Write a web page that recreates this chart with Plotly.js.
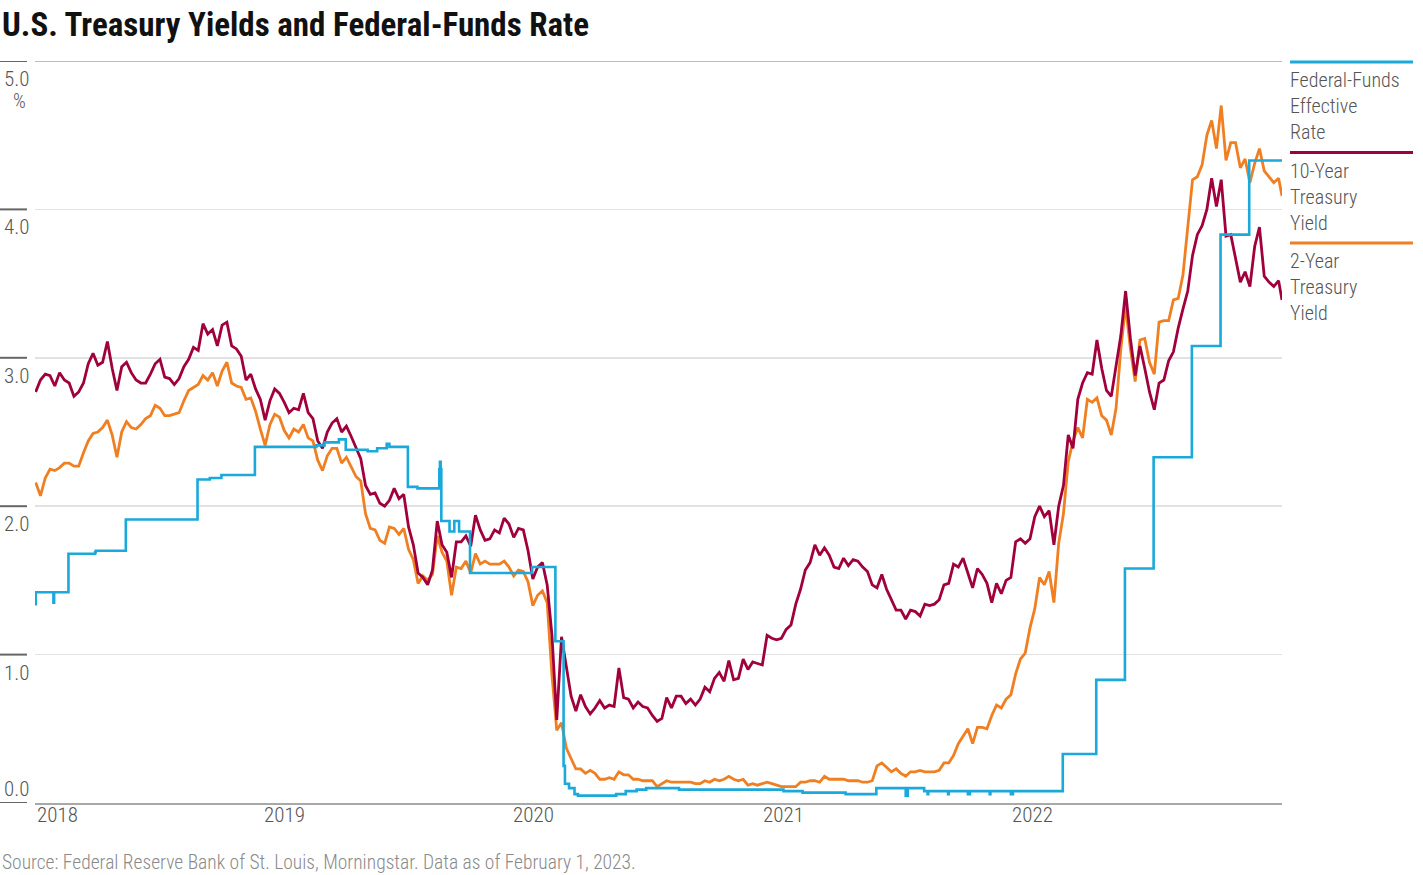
<!DOCTYPE html>
<html>
<head>
<meta charset="utf-8">
<script src="https://cdn.plot.ly/plotly-3.0.1.min.js"></script>
<style>
html,body{margin:0;padding:0;background:#fff;}
#chart{width:1423px;height:875px;}
</style>
</head>
<body>
<div id="chart"></div>
<script>
// ---------------- DATA ----------------
const seriesNames = ['Federal-Funds Effective Rate', '10-Year Treasury Yield', '2-Year Treasury Yield'];
const legendLines = [['Federal-Funds', 'Effective', 'Rate'], ['10-Year', 'Treasury', 'Yield'], ['2-Year', 'Treasury', 'Yield']];

// Treasury yields: weekly readings (Fridays) from 2018-02-02, last reading on 2023-02-01
const firstWeek = '2018-02-02';
const lastDate = '2023-02-01';

const tenYear = [
  // 2018
  2.77, 2.85, 2.89, 2.88,
  2.81, 2.90, 2.85, 2.83, 2.74,
  2.77, 2.83, 2.96, 3.03,
  2.95, 2.97, 3.11, 2.93,
  2.78, 2.94, 2.97, 2.90, 2.85,
  2.83, 2.83, 2.89, 2.96,
  2.99, 2.87, 2.86, 2.82, 2.86,
  2.94, 2.99, 3.07, 3.05,
  3.23, 3.16, 3.19, 3.08,
  3.22, 3.24, 3.08, 3.06, 3.01,
  2.85, 2.89, 2.79, 2.72,
  // 2019
  2.58, 2.71, 2.79, 2.76,
  2.70, 2.63, 2.66, 2.65,
  2.76, 2.63, 2.59, 2.44, 2.39,
  2.50, 2.56, 2.59, 2.50,
  2.54, 2.47, 2.39, 2.32, 2.14,
  2.08, 2.09, 2.02, 2.00,
  2.04, 2.12, 2.05, 2.08,
  1.86, 1.74, 1.55, 1.52, 1.47,
  1.57, 1.90, 1.74, 1.69,
  1.52, 1.76, 1.76, 1.80,
  1.73, 1.94, 1.84, 1.77, 1.78,
  1.84, 1.82, 1.92, 1.88,
  // 2020
  1.79, 1.85, 1.84, 1.70, 1.51,
  1.59, 1.62, 1.47, 1.13,
  0.56, 1.12, 0.92, 0.72,
  0.62, 0.73, 0.65, 0.60,
  0.64, 0.69, 0.64, 0.66, 0.65,
  0.91, 0.71, 0.70, 0.64,
  0.68, 0.65, 0.64, 0.59, 0.55,
  0.57, 0.71, 0.64, 0.72,
  0.72, 0.67, 0.70, 0.66,
  0.70, 0.78, 0.75, 0.84, 0.88,
  0.82, 0.96, 0.83, 0.84,
  0.97, 0.90, 0.95, 0.94,
  // 2021
  0.93, 1.13, 1.11, 1.10, 1.11,
  1.17, 1.20, 1.34, 1.44,
  1.57, 1.62, 1.74, 1.67,
  1.72, 1.67, 1.59, 1.58, 1.65,
  1.60, 1.64, 1.63, 1.59,
  1.56, 1.47, 1.45, 1.54,
  1.44, 1.37, 1.30, 1.30, 1.24,
  1.30, 1.29, 1.26, 1.34,
  1.33, 1.34, 1.37, 1.47,
  1.48, 1.61, 1.59, 1.65, 1.55,
  1.45, 1.58, 1.54, 1.48,
  1.35, 1.48, 1.41, 1.50, 1.52,
  // 2022
  1.76, 1.78, 1.75, 1.78,
  1.93, 2.00, 1.93, 1.97,
  1.74, 2.00, 2.14, 2.48,
  2.39, 2.72, 2.83, 2.90, 2.89,
  3.12, 2.93, 2.78, 2.74,
  2.96, 3.15, 3.45, 3.13,
  2.88, 3.08, 2.93, 2.77, 2.65,
  2.83, 2.85, 2.98, 3.04,
  3.20, 3.33, 3.45, 3.69, 3.83,
  3.89, 4.00, 4.21, 4.02,
  4.20, 3.82, 3.83, 3.68,
  3.51, 3.58, 3.48, 3.75, 3.88,
  // 2023
  3.55, 3.51, 3.48, 3.52, 3.39
];

const twoYear = [
  // 2018
  2.16, 2.07, 2.19, 2.25,
  2.24, 2.26, 2.29, 2.29, 2.27,
  2.27, 2.36, 2.44, 2.49,
  2.50, 2.53, 2.58, 2.48,
  2.33, 2.50, 2.57, 2.53, 2.52,
  2.55, 2.59, 2.61, 2.68,
  2.66, 2.61, 2.61, 2.62, 2.63,
  2.71, 2.78, 2.80, 2.82,
  2.88, 2.85, 2.90, 2.81,
  2.91, 2.97, 2.83, 2.81, 2.80,
  2.72, 2.73, 2.64, 2.52,
  // 2019
  2.41, 2.55, 2.62, 2.60,
  2.51, 2.46, 2.52, 2.50,
  2.55, 2.46, 2.44, 2.31, 2.24,
  2.34, 2.39, 2.39, 2.29,
  2.33, 2.27, 2.20, 2.17, 1.95,
  1.85, 1.84, 1.77, 1.75,
  1.86, 1.85, 1.81, 1.85,
  1.71, 1.64, 1.48, 1.53, 1.50,
  1.54, 1.80, 1.69, 1.63,
  1.40, 1.59, 1.58, 1.63,
  1.55, 1.68, 1.61, 1.63, 1.61,
  1.61, 1.61, 1.63, 1.59,
  // 2020
  1.53, 1.57, 1.56, 1.49, 1.33,
  1.40, 1.43, 1.35, 0.86,
  0.49, 0.54, 0.37, 0.30,
  0.23, 0.23, 0.20, 0.22,
  0.20, 0.16, 0.16, 0.17, 0.16,
  0.21, 0.19, 0.19, 0.16,
  0.16, 0.15, 0.15, 0.15, 0.11,
  0.13, 0.15, 0.14, 0.14,
  0.14, 0.14, 0.14, 0.13,
  0.13, 0.15, 0.14, 0.16, 0.15,
  0.16, 0.18, 0.16, 0.15,
  0.16, 0.12, 0.13, 0.12,
  // 2021
  0.13, 0.14, 0.13, 0.12, 0.11,
  0.11, 0.11, 0.11, 0.14,
  0.14, 0.15, 0.15, 0.14,
  0.18, 0.16, 0.16, 0.16, 0.16,
  0.15, 0.15, 0.15, 0.14,
  0.14, 0.15, 0.25, 0.27,
  0.24, 0.21, 0.23, 0.20, 0.18,
  0.21, 0.21, 0.22, 0.21,
  0.21, 0.21, 0.22, 0.27,
  0.27, 0.32, 0.40, 0.45, 0.50,
  0.40, 0.51, 0.51, 0.50,
  0.59, 0.66, 0.64, 0.70, 0.73,
  // 2022
  0.87, 0.97, 1.01, 1.18,
  1.31, 1.52, 1.47, 1.56,
  1.35, 1.75, 1.95, 2.30,
  2.44, 2.53, 2.46, 2.72, 2.70,
  2.73, 2.61, 2.58, 2.48,
  2.66, 3.06, 3.35, 3.06,
  2.84, 3.12, 3.13, 2.97, 2.89,
  3.24, 3.25, 3.25, 3.39,
  3.40, 3.56, 3.87, 4.20, 4.22,
  4.30, 4.50, 4.60, 4.41,
  4.70, 4.33, 4.45, 4.45,
  4.28, 4.34, 4.18, 4.31, 4.41,
  // 2023
  4.26, 4.22, 4.18, 4.21, 4.09
];

// Federal-funds effective rate: value in force from each date
const ffDates = [
  '2018-02-01', '2018-02-02', '2018-02-28', '2018-03-01', '2018-03-22', '2018-04-30', '2018-05-01',
  '2018-06-14', '2018-08-01', '2018-09-27', '2018-10-15', '2018-11-01', '2018-12-20',
  '2019-03-01', '2019-03-20', '2019-04-01', '2019-04-22', '2019-05-02', '2019-06-03', '2019-06-17',
  '2019-07-01', '2019-07-05', '2019-08-01', '2019-08-15', '2019-09-16', '2019-09-17', '2019-09-18',
  '2019-09-19', '2019-10-01', '2019-10-08', '2019-10-15', '2019-10-31',
  '2020-01-30', '2020-03-04', '2020-03-16', '2020-03-18', '2020-03-24', '2020-04-01', '2020-04-06',
  '2020-06-01', '2020-06-15', '2020-07-01', '2020-07-15', '2020-09-01', '2020-12-01',
  '2021-02-01', '2021-03-01', '2021-05-03', '2021-06-17', '2021-07-30', '2021-08-02', '2021-08-26',
  '2021-08-31', '2021-09-01', '2021-09-30', '2021-10-01', '2021-10-29', '2021-11-01', '2021-11-30',
  '2021-12-01', '2021-12-31', '2022-01-03',
  '2022-03-17', '2022-05-05', '2022-06-16', '2022-07-28', '2022-09-22', '2022-11-03', '2022-12-15',
  '2023-02-01'
];
const ffRates = [
  1.34, 1.42, 1.35, 1.42, 1.68, 1.69, 1.70,
  1.91, 1.91, 2.18, 2.19, 2.21, 2.40,
  2.40, 2.41, 2.43, 2.45, 2.38, 2.37, 2.39,
  2.42, 2.40, 2.13, 2.12, 2.25, 2.30, 2.25,
  1.90, 1.83, 1.90, 1.83, 1.55,
  1.59, 1.09, 0.25, 0.13, 0.10, 0.06, 0.05,
  0.06, 0.08, 0.09, 0.10, 0.09, 0.09,
  0.08, 0.07, 0.06, 0.10, 0.05, 0.10, 0.08,
  0.06, 0.08, 0.06, 0.08, 0.06, 0.08, 0.06,
  0.08, 0.06, 0.08,
  0.33, 0.83, 1.58, 2.33, 3.08, 3.83, 4.33,
  4.33
];

const yTickVals = [0, 1, 2, 3, 4, 5];
const yTickText = ['0.0', '1.0', '2.0', '3.0', '4.0', '5.0'];
const xTickDates = ['2018-02-01', '2019-02-01', '2020-02-01', '2021-02-01', '2022-02-01'];
const xTickText = ['2018', '2019', '2020', '2021', '2022'];
const xRange = ['2018-02-01', '2023-02-01'];

const titleText = 'U.S. Treasury Yields and Federal-Funds Rate';
const sourceText = 'Source: Federal Reserve Bank of St. Louis, Morningstar. Data as of February 1, 2023.';
const unitText = '%';

// ---------------- STYLE ----------------
const colors = ['#1aa9da', '#a0003b', '#f07f22'];
const FONT = '"Roboto Condensed", "Liberation Sans Narrow", "Arial Narrow", "DejaVu Sans Condensed", Roboto, sans-serif';
const W = 1423, H = 875;
const M = {l: 35, r: 141, t: 61, b: 72};
const plotW = W - M.l - M.r, plotH = H - M.t - M.b;
const px2x = px => (px - M.l) / plotW;
const px2y = py => (H - M.b - py) / plotH;

function weeklyDates(start, n, last) {
  const out = [];
  const d0 = new Date(start + 'T00:00:00Z').getTime();
  for (let i = 0; i < n - 1; i++) {
    out.push(new Date(d0 + i * 7 * 86400000).toISOString().slice(0, 10));
  }
  out.push(last);
  return out;
}
const tsyDates = weeklyDates(firstWeek, tenYear.length, lastDate);

const traces = [
  {x: tsyDates, y: twoYear, name: seriesNames[2], type: 'scatter', mode: 'lines',
   line: {color: colors[2], width: 2.8}, hoverinfo: 'skip'},
  {x: tsyDates, y: tenYear, name: seriesNames[1], type: 'scatter', mode: 'lines',
   line: {color: colors[1], width: 2.8}, hoverinfo: 'skip'},
  {x: ffDates, y: ffRates, name: seriesNames[0], type: 'scatter', mode: 'lines',
   line: {color: colors[0], width: 2.6, shape: 'hv'}, hoverinfo: 'skip'}
];

const annotations = [];
const shapes = [];
const labelFont = {family: FONT, size: 21, color: '#555', weight: 300};

// title
annotations.push({
  xref: 'paper', yref: 'paper', x: px2x(0), y: px2y(3), xanchor: 'left', yanchor: 'top',
  text: '<b>' + titleText + '</b>', showarrow: false,
  font: {family: FONT, size: 33, color: '#111'}
});

// y tick labels and their short left marks
yTickVals.forEach((v, i) => {
  const isBottom = v === 0;
  annotations.push({
    xref: 'paper', yref: 'y', x: px2x(2), y: v, xanchor: 'left',
    yanchor: isBottom ? 'bottom' : 'top', yshift: isBottom ? 0 : -4,
    text: yTickText[i], showarrow: false, font: labelFont
  });
  shapes.push({type: 'line', xref: 'paper', yref: 'y', x0: px2x(0), x1: px2x(27), y0: v, y1: v,
    line: {color: '#666', width: 2}});
});
annotations.push({
  xref: 'paper', yref: 'y', x: px2x(28), y: yTickVals[yTickVals.length - 1], xanchor: 'right', yanchor: 'top',
  yshift: -26, text: unitText, showarrow: false, font: {family: FONT, size: 20, color: '#555', weight: 300}
});
// top (5.0) rule is darker
shapes.push({type: 'line', xref: 'paper', yref: 'y', x0: 0, x1: 1, y0: 5, y1: 5,
  line: {color: '#a6a6a6', width: 1.5}});

// x tick labels
xTickDates.forEach((d, i) => {
  annotations.push({
    xref: 'x', yref: 'paper', x: d, y: 0, xanchor: i === 0 ? 'left' : 'center', yanchor: 'top', yshift: 2,
    text: xTickText[i], showarrow: false, font: labelFont
  });
});

// legend (right side)
const legendTop = [62, 152.5, 243];
legendLines.forEach((lines, i) => {
  shapes.push({type: 'line', xref: 'paper', yref: 'paper', x0: px2x(1290), x1: px2x(1413),
    y0: px2y(legendTop[i]), y1: px2y(legendTop[i]), line: {color: colors[i], width: 3}});
  annotations.push({
    xref: 'paper', yref: 'paper', x: px2x(1288), y: px2y(legendTop[i] + 4), xanchor: 'left', yanchor: 'top',
    align: 'left', text: lines.join('<br>'), showarrow: false,
    font: {family: FONT, size: 20, color: '#555', weight: 300}
  });
});

// source
annotations.push({
  xref: 'paper', yref: 'paper', x: px2x(0), y: px2y(H), xanchor: 'left', yanchor: 'bottom', yshift: -1,
  text: sourceText, showarrow: false, font: {family: FONT, size: 19.5, color: '#8a8a8a', weight: 300}
});

const layout = {
  width: W, height: H,
  margin: M,
  paper_bgcolor: '#fff', plot_bgcolor: '#fff',
  showlegend: false,
  xaxis: {
    type: 'date', range: xRange, showgrid: false, zeroline: false,
    showline: true, linecolor: '#a8a8a8', linewidth: 2,
    showticklabels: false, ticks: ''
  },
  yaxis: {
    range: [0, 5], tickvals: yTickVals, showticklabels: false, ticks: '',
    showgrid: true, gridcolor: '#e2e2e2', gridwidth: 1.5, zeroline: false, showline: false
  },
  annotations: annotations,
  shapes: shapes
};

Plotly.newPlot('chart', traces, layout, {displayModeBar: false, staticPlot: true});
</script>
</body>
</html>
